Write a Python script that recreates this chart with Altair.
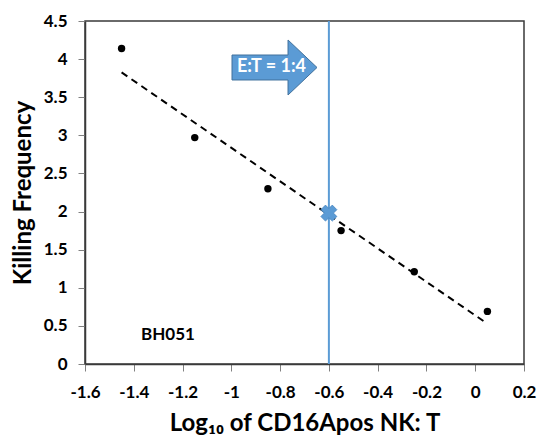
import altair as alt
import pandas as pd

# measured points (log10 E:T ratio vs killing frequency)
log_ratio = [-1.45, -1.15, -0.85, -0.55, -0.25, 0.05]
killing = [4.14, 2.97, 2.30, 1.75, 1.21, 0.69]

# the E:T = 1:4 reference
ref_x = [-0.6]
ref_y = [1.98]
arrow_x = [-0.823]
arrow_y = [3.89]
arrow_text = ["E:T = 1:4"]
sample_label = ["BH051"]
sample_x = [-1.26]
sample_y = [0.38]

x_ticks = [-1.6, -1.4, -1.2, -1.0, -0.8, -0.6, -0.4, -0.2, 0.0, 0.2]
y_ticks = [0, 0.5, 1, 1.5, 2, 2.5, 3, 3.5, 4, 4.5]

BLUE = "#5B9BD5"
FONT = "Lato"

pts = pd.DataFrame({"x": log_ratio, "y": killing})
ref = pd.DataFrame({"x": ref_x, "y": ref_y})
arrow = pd.DataFrame({"x": arrow_x, "y": arrow_y, "t": arrow_text})
lab = pd.DataFrame({"x": sample_x, "y": sample_y, "t": sample_label})

xs = alt.Scale(domain=[-1.6, 0.2], nice=False)
ys = alt.Scale(domain=[0, 4.5], nice=False)

# plain hyphen instead of the unicode minus d3-format gives
fmt = "datum.value == 0 ? '0' : replace(format(datum.value, '.1~f'), '\u2212', '-')"

xax = alt.Axis(values=x_ticks, title="Log₁₀ of CD16Apos NK: T", grid=False,
               labelExpr=fmt, labelPadding=13, titlePadding=11)
yax = alt.Axis(values=y_ticks, title="Killing Frequency", grid=False,
               labelExpr=fmt, labelPadding=11, titlePadding=8)

X = alt.X("x:Q", scale=xs, axis=xax)
Y = alt.Y("y:Q", scale=ys, axis=yax)

base = alt.Chart(pts).encode(x=X, y=Y)

dots = base.mark_circle(color="black", size=55, opacity=1)

trend = base.transform_regression("x", "y").mark_line(
    color="black", strokeWidth=2, strokeDash=[7, 5]
)

vline = alt.Chart(ref).mark_rule(color=BLUE, strokeWidth=2).encode(x=X)

xmark = alt.Chart(ref).mark_point(
    shape="cross", angle=45, size=260, filled=True, color=BLUE, opacity=1,
    stroke="#4a86c0", strokeWidth=0.8
).encode(x=X, y=Y)

arrow_path = ("M -1 -0.294 L 0.318 -0.294 L 0.318 -0.647 L 1 0 "
              "L 0.318 0.647 L 0.318 0.294 L -1 0.294 Z")
arrow_shape = alt.Chart(arrow).mark_point(
    shape=arrow_path, size=7225, filled=True, fill=BLUE, opacity=1,
    stroke="#41719C", strokeWidth=1
).encode(x=X, y=Y)

arrow_label = alt.Chart(arrow).mark_text(
    color="white", font=FONT, fontWeight="bold", fontSize=18, dx=-3
).encode(x=X, y=Y, text="t:N")

sample = alt.Chart(lab).mark_text(
    color="black", font=FONT, fontWeight="bold", fontSize=17
).encode(x=X, y=Y, text="t:N")

chart = alt.layer(
    trend, vline, dots, xmark, arrow_shape, arrow_label, sample
).properties(
    width=439, height=343,
    autosize=alt.AutoSizeParams(type="none"),
    padding={"left": 77, "top": 13, "right": 18, "bottom": 72},
    background="white",
).configure_view(
    stroke="#3a3a3a", strokeWidth=1.5
).configure_axis(
    labelFont=FONT, labelFontWeight="bold", labelFontSize=17, labelColor="black",
    titleFont=FONT, titleFontWeight="bold", titleFontSize=24, titleColor="black",
    domainColor="#3a3a3a", domainWidth=1.5, tickColor="#808080", tickSize=7,
    labelOverlap=False, labelFlush=False,
)

chart.save("out.html", embed_options={"renderer": "svg", "actions": False})
